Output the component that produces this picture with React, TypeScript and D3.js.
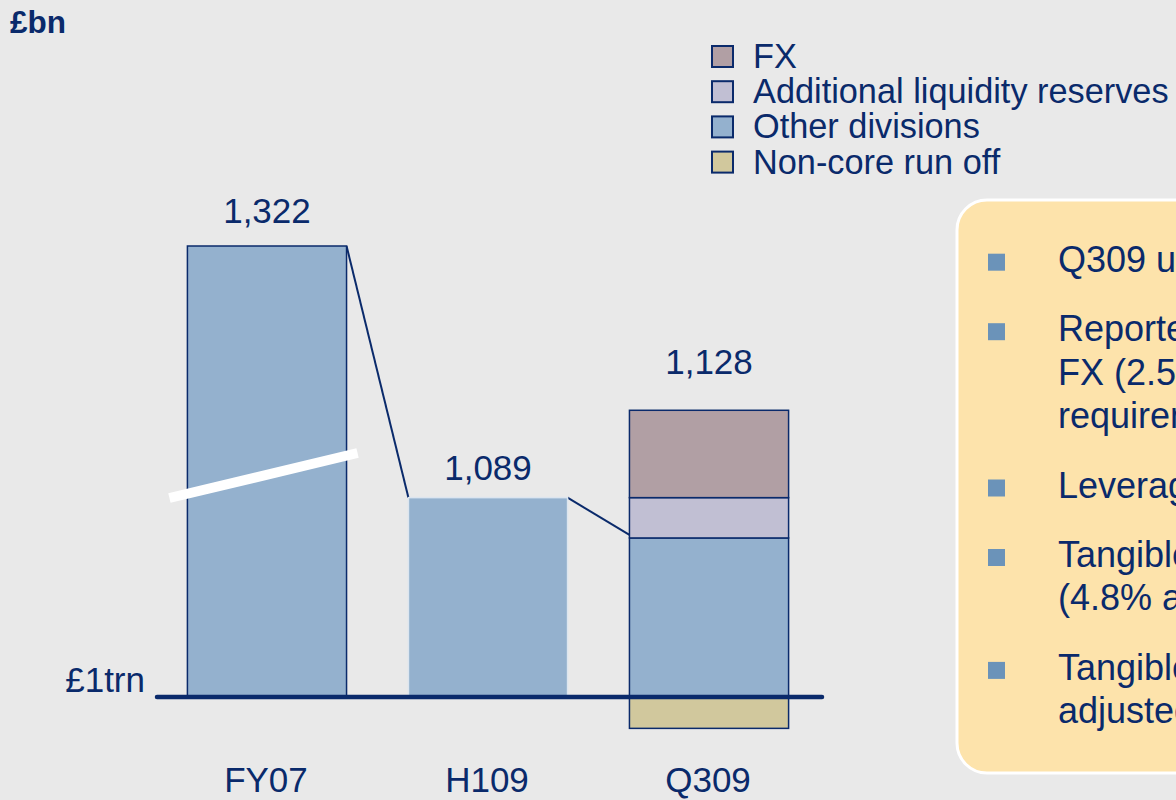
import React from 'react'
import * as d3 from 'd3'

// bar totals in £bn
const categories = ['FY07', 'H109', 'Q309']
const totals = [1322, 1089, 1128]
const totalLabels = ['1,322', '1,089', '1,128']

// Q309 split (£bn, relative to the £1trn base line)
const segmentNames = ['Non-core run off', 'Other divisions', 'Additional liquidity reserves', 'FX']
const q309Segments = [-14, 71, 18, 39]
const segmentColors = ['#d1c89d', '#94b1ce', '#c1bfd3', '#b19fa4']

const legendOrder = ['FX', 'Additional liquidity reserves', 'Other divisions', 'Non-core run off']

const baseValue = 1000
const baseLabel = '£1trn'

const bullets = [
  ['Q309 up'],
  ['Reported', 'FX (2.5%)', 'requirements'],
  ['Leverage'],
  ['Tangible', '(4.8% at'],
  ['Tangible', 'adjusted'],
]

const NAVY = '#0a2a6b'
const FONT = '"Liberation Sans", Arial, sans-serif'
const LABEL_GAP = [23, 18, 36]

function App() {
  const W = 1176
  const H = 800

  const x = d3.scaleBand()
    .domain(categories)
    .range([157, 819])
    .paddingInner(0.28)
    .paddingOuter(0.1376)

  // broken axis: FY07 bar is cut, so upper piece is compressed
  const y = d3.scaleLinear()
    .domain([1000, 1150, 1322])
    .range([697, 361, 246])

  const bw = x.bandwidth()

  // stack the Q309 pieces
  let up = baseValue
  let down = baseValue
  const stack = q309Segments.map((v, i) => {
    let y0, y1
    if (v < 0) { y0 = down + v; y1 = down; down += v }
    else { y0 = up; y1 = up + v; up += v }
    return { name: segmentNames[i], color: segmentColors[i], y0, y1 }
  })
  const otherTop = stack[1].y1

  const xq = x('Q309')!
  const xf = x('FY07')!
  const xh = x('H109')!

  const line = d3.line()

  // break mark across FY07 bar
  const breakMid = 1100
  const breakPath = line([
    [xf - 18, y(breakMid) + 25],
    [xf + bw + 11, y(breakMid) - 20],
  ])

  const legendX = 711
  const legendY = 45
  const legendStep = 35.2

  return (
    <svg width={W} height={H} style={{ position: 'absolute', left: 0, top: 0, background: '#e9e9e9' }} fontFamily={FONT}>
      <rect width={W} height={H} fill="#e9e9e9" />
      <text x={10} y={33} fontSize={31.5} fontWeight="bold" fill={NAVY}>£bn</text>

      {/* legend */}
      {legendOrder.map((name, i) => {
        const c = segmentColors[segmentNames.indexOf(name)]
        return (
          <g key={name} transform={`translate(${legendX},${legendY + i * legendStep})`}>
            <rect x={1} y={1} width={21} height={21} fill={c} stroke={NAVY} strokeWidth={2} />
            <text x={42} y={23} fontSize={34.3} fill={NAVY}>{name}</text>
          </g>
        )
      })}

      {/* connectors */}
      <path d={line([[xf + bw, y(totals[0])], [xh, y(totals[1])]])!} stroke={NAVY} strokeWidth={2} fill="none" />
      <path d={line([[xh + bw, y(totals[1])], [xq, y(otherTop) - 3]])!} stroke={NAVY} strokeWidth={2} fill="none" />

      {/* FY07 and H109 bars */}
      <rect x={xf} y={y(totals[0])} width={bw} height={y(baseValue) - y(totals[0])} fill="#94b1ce" stroke={NAVY} strokeWidth={1.5} />
      <rect x={xh} y={y(totals[1])} width={bw} height={y(baseValue) - y(totals[1])} fill="#94b1ce" stroke="#dce5ef" strokeWidth={1.5} />
      <path d={breakPath!} stroke="#ffffff" strokeWidth={10} fill="none" />

      {/* Q309 stack */}
      {stack.map(s => (
        <rect key={s.name} x={xq} y={y(s.y1)} width={bw} height={y(s.y0) - y(s.y1)} fill={s.color} stroke={NAVY} strokeWidth={1.5} />
      ))}

      {/* base line */}
      <line x1={157} x2={822} y1={y(baseValue)} y2={y(baseValue)} stroke={NAVY} strokeWidth={4.5} strokeLinecap="round" />
      <text x={145} y={y(baseValue) - 5} textAnchor="end" fontSize={35} fill={NAVY}>{baseLabel}</text>

      {/* value labels */}
      {categories.map((c, i) => (
        <text key={c} x={x(c)! + bw / 2} y={y(totals[i]) - LABEL_GAP[i]} textAnchor="middle" fontSize={35} fill={NAVY}>{totalLabels[i]}</text>
      ))}

      {/* category labels */}
      {categories.map(c => (
        <text key={c} x={x(c)! + bw / 2 - 1} y={792} textAnchor="middle" fontSize={35} fill={NAVY}>{c}</text>
      ))}

      {/* commentary box */}
      <rect x={957} y={200} width={300} height={573} rx={30} ry={30} fill="#fde3ab" stroke="#ffffff" strokeWidth={3} />
      {(() => {
        let by = 271.7
        return bullets.map((lines, i) => {
          const top = by
          by += (lines.length - 1) * 43.4 + 69.5
          return (
            <g key={i}>
              <rect x={988} y={top - 18} width={17} height={17} fill="#6b93b9" />
              {lines.map((t, j) => (
                <text key={j} x={1058} y={top + j * 43.4} fontSize={36} fill={NAVY}>{t}</text>
              ))}
            </g>
          )
        })
      })()}
    </svg>
  )
}

export default App
